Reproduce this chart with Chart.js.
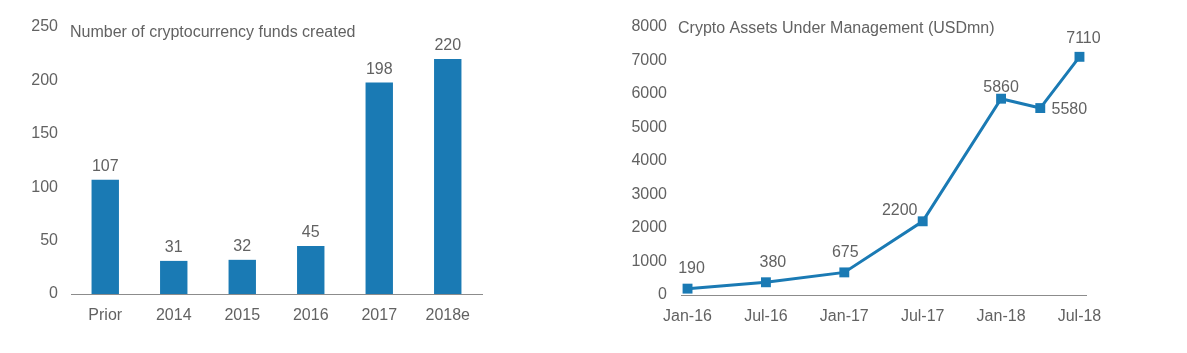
<!DOCTYPE html>
<html>
<head>
<meta charset="utf-8">
<script src="https://cdn.jsdelivr.net/npm/chart.js@4"></script>
<style>
    body { margin: 0; background: #fff; }
    .box { position: absolute; top: 0; height: 353px; }
    #left { left: 0; width: 600px; }
    #right { left: 600px; width: 587px; }
</style>
</head>
<body>
<div class="box" id="left"><canvas id="fundsChart"></canvas></div>
<div class="box" id="right"><canvas id="aumChart"></canvas></div>
<script>
// Left chart data
const fundCategories = ['Prior', '2014', '2015', '2016', '2017', '2018e'];
const fundCounts = [107, 31, 32, 45, 198, 220];

// Right chart data (x = months since Jan-16)
const aumMonths = [0, 6, 12, 18, 24, 27, 30];
const aumValues = [190, 380, 675, 2200, 5860, 5580, 7110];
const aumTickLabels = { 0: 'Jan-16', 6: 'Jul-16', 12: 'Jan-17', 18: 'Jul-17', 24: 'Jan-18', 30: 'Jul-18' };

// Label offsets for the line chart (styling only)
const aumLabelOffsets = [[4, -20], [7, -20], [1, -20], [-23, -11], [0, -11], [29, 2], [4, -18]];

const BLUE = '#1a7ab4';
const TEXT = '#626262';
const FONT = 'Liberation Sans, Arial, sans-serif';

Chart.defaults.font.family = FONT;
Chart.defaults.color = TEXT;
Chart.defaults.animation = false;

// Draws a title in the top left of the plot and value labels over the marks
function labelPlugin(title, titleX, titleY, offsets) {
    return {
        id: 'labels',
        afterDraw(chart) {
            const ctx = chart.ctx;
            ctx.save();
            ctx.fillStyle = TEXT;
            ctx.font = '16px ' + FONT;
            ctx.textAlign = 'left';
            ctx.textBaseline = 'middle';
            ctx.fillText(title, chart.chartArea.left + titleX, chart.chartArea.top + titleY);

            ctx.textAlign = 'center';
            const meta = chart.getDatasetMeta(0);
            const values = chart.data.datasets[0].data;
            meta.data.forEach((el, i) => {
                const v = typeof values[i] === 'object' ? values[i].y : values[i];
                const off = offsets ? offsets[i] : [0, -13];
                ctx.fillText(String(v), el.x + off[0], el.y + off[1]);
            });
            ctx.restore();
        }
    };
}

function yScale(max, step, width, pad) {
    return {
        min: 0,
        max: max,
        border: { display: false },
        grid: { display: false, drawTicks: false },
        ticks: {
            stepSize: step,
            padding: pad,
            font: { size: 16 },
            color: TEXT,
            callback: value => String(value)
        },
        afterFit(scale) { scale.width = width; }
    };
}

// Bar chart
new Chart(document.getElementById('fundsChart'), {
    type: 'bar',
    data: {
        labels: fundCategories,
        datasets: [{
            data: fundCounts,
            backgroundColor: BLUE,
            barPercentage: 0.4,
            categoryPercentage: 1.0
        }]
    },
    options: {
        responsive: true,
        maintainAspectRatio: false,
        layout: { padding: { left: 0, right: 118, top: 27, bottom: 0 } },
        plugins: { legend: { display: false }, tooltip: { enabled: false } },
        scales: {
            x: {
                border: { display: true, color: '#8c8c8c', width: 1 },
                grid: { display: false, drawTicks: false },
                ticks: { padding: 12, font: { size: 16 }, color: TEXT },
                afterFit(scale) { scale.height = 59; }
            },
            y: yScale(250, 50, 71, 13)
        }
    },
    plugins: [labelPlugin('Number of cryptocurrency funds created', -1, 6, null)]
});

// Line chart
new Chart(document.getElementById('aumChart'), {
    type: 'line',
    data: {
        datasets: [{
            data: aumMonths.map((m, i) => ({ x: m, y: aumValues[i] })),
            borderColor: BLUE,
            borderWidth: 3,
            backgroundColor: BLUE,
            pointStyle: 'rect',
            pointRadius: 7,
            pointBorderWidth: 0,
            tension: 0
        }]
    },
    options: {
        responsive: true,
        maintainAspectRatio: false,
        layout: { padding: { left: 0, right: 101, top: 27, bottom: 0 } },
        plugins: { legend: { display: false }, tooltip: { enabled: false } },
        scales: {
            x: {
                type: 'linear',
                min: -0.5,
                max: 30.5,
                border: { display: true, color: '#8c8c8c', width: 1 },
                grid: { display: false, drawTicks: false },
                afterBuildTicks(scale) {
                    scale.ticks = Object.keys(aumTickLabels).map(v => ({ value: Number(v) }));
                },
                ticks: {
                    padding: 12,
                    font: { size: 16 },
                    color: TEXT,
                    callback: value => aumTickLabels[value] || ''
                },
                afterFit(scale) { scale.height = 58; }
            },
            y: yScale(8000, 1000, 81, 14)
        }
    },
    plugins: [labelPlugin('Crypto Assets Under Management (USDmn)', -3, 2, aumLabelOffsets)]
});
</script>
</body>
</html>
